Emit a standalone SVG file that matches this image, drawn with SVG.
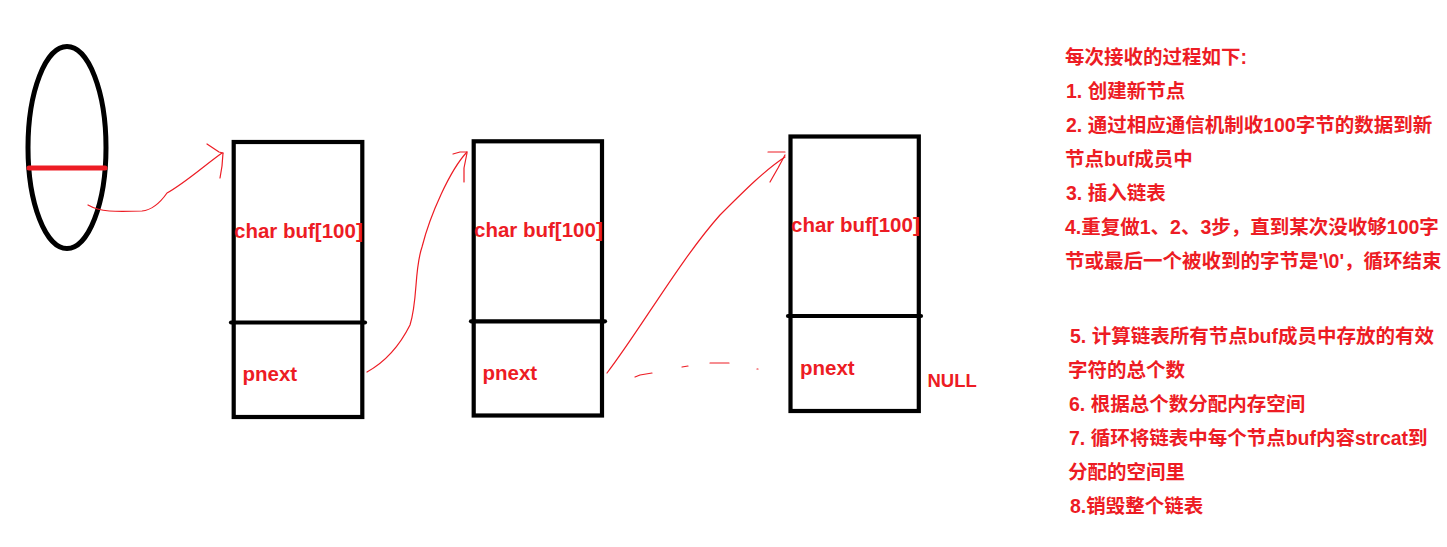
<svg xmlns="http://www.w3.org/2000/svg" width="1447" height="547" viewBox="0 0 1447 547">
<style>
.box{fill:none;stroke:#000;stroke-width:4.2}
.div{stroke:#000;stroke-width:4.2;stroke-linecap:round}
.lbl{font-family:"Liberation Sans",Arial,sans-serif;font-weight:bold;font-size:20.5px;fill:#ED1C24}
.wire{fill:none;stroke:#ED1C24;stroke-width:1.2;stroke-linejoin:round;stroke-linecap:round}
.note{font-family:"Liberation Sans","Noto Sans CJK SC",sans-serif;font-weight:bold;font-size:19.5px;fill:#ED1C24}
</style>
<rect width="1447" height="547" fill="#fff"/>
<g id="disk">
<ellipse cx="67" cy="147.5" rx="39" ry="101" fill="none" stroke="#000" stroke-width="5"/>
<line x1="29" y1="168" x2="105" y2="168" stroke="#ED1C24" stroke-width="5" stroke-linecap="round"/>
</g>
<g id="node1">
<rect class="box" x="233.7" y="142" width="128.6" height="275"/>
<line class="div" x1="231" y1="322.5" x2="365" y2="322.5"/>
<text class="lbl" x="234" y="238">char buf[100]</text>
<text class="lbl" x="242.5" y="381">pnext</text>
</g>
<g id="node2">
<rect class="box" x="473.7" y="141.3" width="128.3" height="274.2"/>
<line class="div" x1="471" y1="321.3" x2="605" y2="321.3"/>
<text class="lbl" x="474" y="237">char buf[100]</text>
<text class="lbl" x="482.5" y="380">pnext</text>
</g>
<g id="node3">
<rect class="box" x="790.5" y="136.5" width="128.3" height="274.5"/>
<line class="div" x1="788" y1="316" x2="921" y2="316"/>
<text class="lbl" x="791" y="232">char buf[100]</text>
<text class="lbl" x="800" y="375">pnext</text>
<text class="lbl" x="927.5" y="386.5" style="font-size:18.5px">NULL</text>
</g>
<g id="connectors">
<path class="wire" d="M88,205 C100,212 115,212 142,211 C152,210 160,203 167,193 C185,183 205,165 222,153"/>
<polyline class="wire" points="207,144 213,148 219,152 223,153"/>
<polyline class="wire" points="223,153 222,166 220,178"/>
<path class="wire" d="M367,372 C385,362 400,345 410,325 C418,300 414,270 422,247 C430,215 450,170 467,152"/>
<polyline class="wire" points="453,154 460,152 467,152"/>
<polyline class="wire" points="467,153 464,168 464,182"/>
<path class="wire" d="M607,373 C640,330 680,260 720,215 C745,190 765,170 785,157"/>
<polyline class="wire" points="768,152 785,152"/>
<polyline class="wire" points="785,155 778,168 770,182"/>
<polyline class="wire" points="635,377 640,375 652,373"/>
<polyline class="wire" points="682,367 688,366"/>
<polyline class="wire" points="710,363 729,363"/>
<polyline class="wire" points="757,369 758,369"/>
</g>
<g id="notes">
<text class="note" x="1065" y="64">每次接收的过程如下:</text>
<text class="note" x="1066" y="98">1. 创建新节点</text>
<text class="note" x="1066" y="132">2. 通过相应通信机制收100字节的数据到新</text>
<text class="note" x="1065" y="166">节点buf成员中</text>
<text class="note" x="1066" y="200">3. 插入链表</text>
<text class="note" x="1065" y="234">4.重复做1、2、3步，直到某次没收够100字</text>
<text class="note" x="1065" y="268">节或最后一个被收到的字节是'\0'，循环结束</text>
<text class="note" x="1070" y="343">5. 计算链表所有节点buf成员中存放的有效</text>
<text class="note" x="1068" y="377">字符的总个数</text>
<text class="note" x="1069" y="411">6. 根据总个数分配内存空间</text>
<text class="note" x="1069" y="445">7. 循环将链表中每个节点buf内容strcat到</text>
<text class="note" x="1068" y="479">分配的空间里</text>
<text class="note" x="1070" y="513">8.销毁整个链表</text>
</g>
</svg>
